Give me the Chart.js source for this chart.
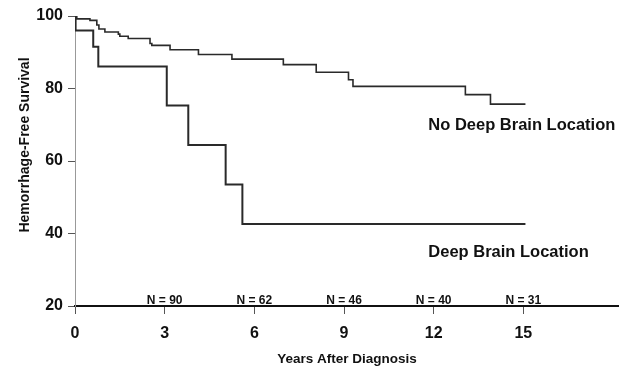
<!DOCTYPE html>
<html>
<head>
<meta charset="utf-8">
<script src="https://cdn.jsdelivr.net/npm/chart.js@4/dist/chart.umd.min.js"></script>
<style>
html,body{margin:0;padding:0;background:#fff;}
#wrap{width:619px;height:367px;position:relative;}
</style>
</head>
<body>
<div id="wrap"><canvas id="c" width="619" height="367"></canvas></div>
<script>
// ---- data ----
const noDeepYears    = [0, 0.06, 0.5, 0.73, 0.8, 1.0, 1.45, 1.5, 1.78, 2.51, 2.57, 3.18, 4.13, 5.25, 6.97, 8.07, 9.15, 9.3, 13.06, 13.9, 15.07];
const noDeepSurvival = [100, 99.2, 98.8, 97.5, 96.4, 95.6, 95.0, 94.4, 93.8, 92.4, 91.9, 90.7, 89.4, 88.1, 86.6, 84.5, 82.4, 80.6, 78.3, 75.7, 75.7];
const deepYears      = [0, 0.02, 0.61, 0.78, 3.07, 3.79, 5.04, 5.6, 15.07];
const deepSurvival   = [100, 96.0, 91.5, 86.1, 75.3, 64.4, 53.5, 42.6, 42.6];
const xTickValues    = [0, 3, 6, 9, 12, 15];
const yTickValues    = [20, 40, 60, 80, 100];
const atRiskYears    = [3, 6, 9, 12, 15];
const atRiskLabels   = ['N = 90', 'N = 62', 'N = 46', 'N = 40', 'N = 31'];
const seriesNames    = ['No Deep Brain Location', 'Deep Brain Location'];
const seriesLabelAt  = [[11.82, 69.9], [11.82, 34.9]];
const xTitle = 'Years After Diagnosis';
const yTitle = 'Hemorrhage-Free Survival';

const toPts = (xs, ys) => xs.map((x, i) => ({x: x, y: ys[i]}));

const textPlugin = {
  id: 'texts',
  afterDraw(chart) {
    const ctx = chart.ctx, xs = chart.scales.x, ys = chart.scales.y;
    ctx.save();
    ctx.fillStyle = '#111';
    // series labels
    ctx.font = 'bold 16.5px "Liberation Sans", Arial, sans-serif';
    ctx.textAlign = 'left';
    ctx.textBaseline = 'middle';
    seriesNames.forEach((n, i) => {
      ctx.fillText(n, xs.getPixelForValue(seriesLabelAt[i][0]), ys.getPixelForValue(seriesLabelAt[i][1]));
    });
    // at-risk numbers
    ctx.font = 'bold 12px "Liberation Sans", Arial, sans-serif';
    ctx.textAlign = 'center';
    ctx.textBaseline = 'alphabetic';
    atRiskYears.forEach((t, i) => {
      ctx.fillText(atRiskLabels[i], xs.getPixelForValue(t), chart.chartArea.bottom - 2);
    });
    // y title
    ctx.font = 'bold 14px "Liberation Sans", Arial, sans-serif';
    ctx.translate(25, 145);
    ctx.rotate(-Math.PI / 2);
    ctx.textAlign = 'center';
    ctx.textBaseline = 'middle';
    ctx.fillText(yTitle, 0, 0);
    ctx.restore();
  }
};

new Chart(document.getElementById('c'), {
  type: 'line',
  data: {
    datasets: [
      { label: seriesNames[0], data: toPts(noDeepYears, noDeepSurvival), stepped: true,
        borderColor: '#2a2a2a', borderWidth: 1.6, pointRadius: 0, fill: false },
      { label: seriesNames[1], data: toPts(deepYears, deepSurvival), stepped: true,
        borderColor: '#2a2a2a', borderWidth: 2, pointRadius: 0, fill: false }
    ]
  },
  options: {
    responsive: false,
    animation: false,
    layout: { padding: { top: 16, right: 0, bottom: 0, left: 0 } },
    plugins: { legend: { display: false }, tooltip: { enabled: false } },
    scales: {
      x: {
        type: 'linear', min: 0, max: 18.2,
        afterBuildTicks(s) { s.ticks = xTickValues.map(v => ({value: v})); },
        afterFit(s) { s.height = 61; },
        grid: { drawOnChartArea: false, tickLength: 8, tickColor: '#555', tickWidth: 1 },
        border: { color: '#111', width: 2 },
        ticks: { font: { family: '"Liberation Sans", Arial, sans-serif', size: 16, weight: 'bold' }, color: '#111', padding: 10, maxRotation: 0 },
        title: { display: true, text: xTitle, color: '#111', padding: { top: 0, bottom: 0 },
          font: { family: '"Liberation Sans", Arial, sans-serif', size: 13.5, weight: 'bold' } }
      },
      y: {
        type: 'linear', min: 20, max: 100,
        afterBuildTicks(s) { s.ticks = yTickValues.map(v => ({value: v})); },
        afterFit(s) { s.width = 75; },
        grid: { drawOnChartArea: false, tickLength: 7, tickColor: '#555', tickWidth: 1 },
        border: { color: '#999', width: 1 },
        ticks: { font: { family: '"Liberation Sans", Arial, sans-serif', size: 16, weight: 'bold' }, color: '#111', padding: 5 }
      }
    }
  },
  plugins: [textPlugin]
});
</script>
</body>
</html>
